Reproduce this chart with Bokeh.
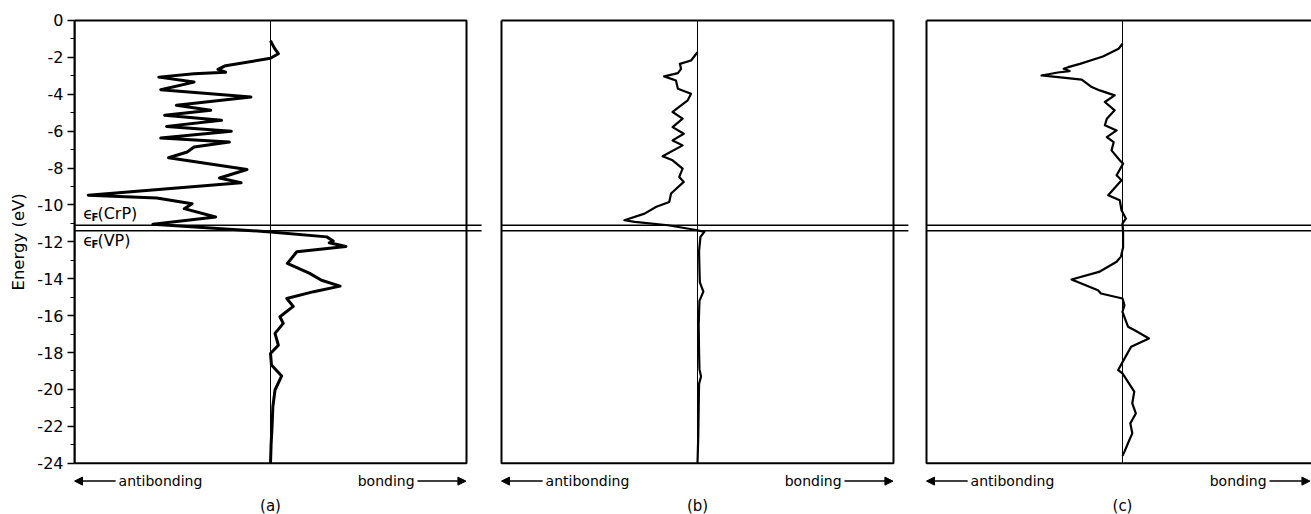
import math
from bokeh.plotting import figure
from bokeh.layouts import row
from bokeh.models import Range1d, FixedTicker, Arrow, NormalHead
from bokeh.core.properties import value
from bokeh.embed import file_html
from bokeh.resources import INLINE

# ---------------- data ----------------
# energy (eV) and COOP value (negative = antibonding, positive = bonding)
A_ENERGY = [-1.1, -1.5, -1.8, -2.05, -2.45, -2.65, -2.8, -2.89, -3.07, -3.34,
            -3.75, -4.15, -4.6, -4.87, -5.14, -5.41, -5.74, -6.0, -6.37, -6.59,
            -6.86, -7.13, -7.44, -7.81, -8.08, -8.54, -8.8, -9.47, -9.62, -9.93,
            -10.2, -10.65, -11.05, -11.46, -11.73, -11.95, -12.05, -12.25, -12.54,
            -13.17, -13.71, -14.08, -14.4, -14.7, -15.07, -15.5, -16.06, -16.42,
            -16.96, -17.6, -18.05, -18.68, -19.27, -20.03, -20.94, -22.0, -23.0, -24.0]
A_COOP = [0.0, 0.02, 0.04, 0.0, -0.229, -0.268, -0.229, -0.39, -0.57, -0.39,
          -0.56, -0.10, -0.48, -0.305, -0.54, -0.25, -0.53, -0.20, -0.56, -0.21,
          -0.39, -0.425, -0.52, -0.29, -0.12, -0.26, -0.15, -0.93, -0.58, -0.40,
          -0.44, -0.28, -0.60, 0.0, 0.287, 0.32, 0.30, 0.385, 0.134,
          0.086, 0.20, 0.26, 0.355, 0.22, 0.083, 0.116, 0.048, 0.065,
          0.023, 0.04, 0.0, 0.005, 0.057, 0.023, 0.012, 0.008, 0.003, 0.0]

B_ENERGY = [-1.72, -2.17, -2.35, -2.62, -2.85, -3.03, -3.25, -3.7, -3.97, -4.33,
            -4.96, -5.32, -5.78, -6.14, -6.5, -6.77, -7.36, -7.58, -8.03, -8.48,
            -8.75, -9.38, -9.84, -10.1, -10.47, -10.83, -10.92, -11.1, -11.37, -11.46,
            -11.73, -12.5, -13.5, -14.2, -14.7, -15.2, -16.5, -18.0, -18.9, -19.3,
            -19.7, -21.0, -22.5, -24.0]
B_COOP = [0.0, -0.033, -0.09, -0.084, -0.10, -0.17, -0.11, -0.10, -0.033, -0.05,
          -0.127, -0.076, -0.127, -0.07, -0.127, -0.076, -0.178, -0.127, -0.076, -0.093,
          -0.07, -0.135, -0.144, -0.21, -0.27, -0.373, -0.32, -0.15, 0.0, 0.035,
          0.015, 0.008, 0.01, 0.012, 0.03, 0.01, 0.006, 0.008, 0.01, 0.018,
          0.008, 0.006, 0.004, 0.0]

C_ENERGY = [-1.26, -1.53, -1.95, -2.35, -2.53, -2.62, -2.74, -2.82, -2.98, -3.21,
            -3.61, -3.79, -4.06, -4.42, -4.87, -5.33, -5.68, -5.96, -6.32, -6.6,
            -7.04, -7.58, -7.76, -8.39, -8.66, -9.47, -9.75, -10.29, -10.74, -11.0,
            -11.5, -12.3, -12.8, -13.08, -13.63, -14.04, -14.62, -14.8, -15.07, -15.43,
            -15.79, -16.6, -16.78, -17.24, -17.69, -18.14, -18.95, -19.13, -20.12, -20.75,
            -21.3, -21.84, -22.38, -22.74, -23.37, -23.6]
C_COOP = [0.0, -0.02, -0.1, -0.217, -0.277, -0.30, -0.27, -0.33, -0.413, -0.208,
          -0.157, -0.116, -0.04, -0.09, -0.04, -0.08, -0.09, -0.03, -0.08, -0.045,
          -0.056, -0.014, 0.003, -0.03, -0.005, -0.073, -0.014, -0.005, 0.017, 0.0,
          0.003, 0.003, -0.008, -0.03, -0.12, -0.26, -0.125, -0.11, 0.0, 0.01,
          0.0, 0.028, 0.06, 0.135, 0.044, 0.02, -0.022, 0.0, 0.06, 0.05,
          0.068, 0.04, 0.05, 0.035, 0.01, 0.0]

EF_LEVELS = [-11.1, -11.4]          # Fermi levels: CrP (upper), VP (lower)
EF_NAMES = ["(CrP)", "(VP)"]
ENERGY_TICKS = [0, -2, -4, -6, -8, -10, -12, -14, -16, -18, -20, -22, -24]
ENERGY_MINOR = [-1, -3, -5, -7, -9, -11, -13, -15, -17, -19, -21, -23]
ENERGY_TICK_LABELS = ["0", "-2", "-4", "-6", "-8", "-10", "-12", "-14", "-16",
                      "-18", "-20", "-22", "-24"]
PANEL_LABELS = ["(a)", "(b)", "(c)"]
SIDE_LABELS = ["antibonding", "bonding"]
Y_LABEL = "Energy (eV)"

# ---------------- layout / style ----------------
E_TOP, E_BOT = 0, -24
FONT = value("DejaVu Sans")
Y_RANGE = (-26.78, 1.084)
H = 514
E_ARROW = -24.97
E_PANEL = -26.30

# narrow strip carrying the vertical axis title, centred on the -24..0 span
title_fig = figure(width=30, height=H, output_backend="svg", toolbar_location=None,
                   x_range=Range1d(0, 30), y_range=Range1d(*Y_RANGE),
                   x_axis_location=None, y_axis_location=None,
                   min_border=0)
title_fig.outline_line_color = None
title_fig.grid.visible = False
title_fig.text(x=[18], y=[(E_TOP + E_BOT) / 2], text=[Y_LABEL], angle=math.pi / 2,
               text_font=FONT, text_font_size="16.5px", text_align="center",
               text_baseline="middle", text_color="black")

panels = [
    dict(data=(A_ENERGY, A_COOP), lw=3.0, width=453, mbl=44, x0=-1.0, x1=-1.0 + 409 / 196, ext=1.077, axis=True),
    dict(data=(B_ENERGY, B_COOP), lw=2.2, width=426, mbl=16, x0=-1.0102, x1=-1.0102 + 410 / 196, ext=1.076, axis=False),
    dict(data=(C_ENERGY, C_COOP), lw=2.2, width=402, mbl=15, x0=-1.0102, x1=-1.0102 + 387 / 196, ext=1.2, axis=False),
]

figs = [title_fig]
for i, cfg in enumerate(panels):
    p = figure(width=cfg["width"], height=H, output_backend="svg", toolbar_location=None,
               x_range=Range1d(cfg["x0"], cfg["x1"]), y_range=Range1d(*Y_RANGE),
               x_axis_location=None, y_axis_location="left" if cfg["axis"] else None,
               min_border_left=cfg["mbl"], min_border_right=0, min_border_top=0,
               min_border_bottom=0)
    p.outline_line_color = None
    p.grid.visible = False
    p.background_fill_color = "white"
    p.border_fill_color = "white"

    if cfg["axis"]:
        ax = p.yaxis[0]
        ax.ticker = FixedTicker(ticks=ENERGY_TICKS, minor_ticks=ENERGY_MINOR)
        ax.major_label_overrides = {t: l for t, l in zip(ENERGY_TICKS, ENERGY_TICK_LABELS)}
        ax.bounds = (E_BOT, E_TOP)
        ax.axis_line_color = "black"
        ax.axis_line_width = 2
        ax.major_tick_out = 7
        ax.major_tick_in = 0
        ax.minor_tick_out = 4
        ax.minor_tick_in = 0
        ax.major_tick_line_width = 1.5
        ax.minor_tick_line_width = 1.2
        ax.major_label_text_font = "DejaVu Sans"
        ax.major_label_text_font_size = "16px"
        ax.major_label_text_color = "black"
        ax.major_label_standoff = 4

    # frame box and zero line
    p.line(x=[-1, 1, 1, -1, -1], y=[E_TOP, E_TOP, E_BOT, E_BOT, E_TOP],
           line_color="black", line_width=2)
    p.line(x=[0, 0], y=[E_TOP, E_BOT], line_color="black", line_width=1)
    # Fermi levels
    for ef in EF_LEVELS:
        p.line(x=[-1, cfg["ext"]], y=[ef, ef], line_color="black", line_width=1.5)

    # COOP curve
    en, coop = cfg["data"]
    p.line(x=coop, y=en, line_color="black", line_width=cfg["lw"], line_join="round")

    # bottom labels
    right_end = min(0.997, cfg["x1"] - 0.008)
    p.add_layout(Arrow(end=NormalHead(size=8, fill_color="black", line_color="black"),
                       x_start=-0.79, y_start=E_ARROW, x_end=-1.0, y_end=E_ARROW,
                       line_color="black", line_width=1.5))
    p.add_layout(Arrow(end=NormalHead(size=8, fill_color="black", line_color="black"),
                       x_start=0.75, y_start=E_ARROW, x_end=right_end, y_end=E_ARROW,
                       line_color="black", line_width=1.5))
    p.text(x=[-0.775], y=[E_ARROW], text=[SIDE_LABELS[0]], text_font=FONT,
           text_font_size="14px", text_align="left", text_baseline="middle", text_color="black")
    p.text(x=[0.735], y=[E_ARROW], text=[SIDE_LABELS[1]], text_font=FONT,
           text_font_size="14px", text_align="right", text_baseline="middle", text_color="black")
    p.text(x=[0.0], y=[E_PANEL], text=[PANEL_LABELS[i]], text_font=FONT,
           text_font_size="15px", text_align="center", text_baseline="middle", text_color="black")

    if i == 0:
        # epsilon_F labels
        for ef_y, name in zip([-10.46, -11.92], EF_NAMES):
            p.text(x=[-0.955], y=[ef_y], text=["\u03f5"], text_font=FONT,
                   text_font_size="16px", text_align="left", text_baseline="middle", text_color="black")
            p.text(x=[-0.913], y=[ef_y - 0.22], text=["F"], text_font=FONT,
                   text_font_size="10px", text_font_style="bold", text_align="left",
                   text_baseline="middle", text_color="black")
            p.text(x=[-0.883], y=[ef_y], text=[name], text_font=FONT,
                   text_font_size="16px", text_align="left", text_baseline="middle", text_color="black")
    figs.append(p)

layout = row(*figs)
open("out.html", "w").write(file_html(layout, INLINE))
